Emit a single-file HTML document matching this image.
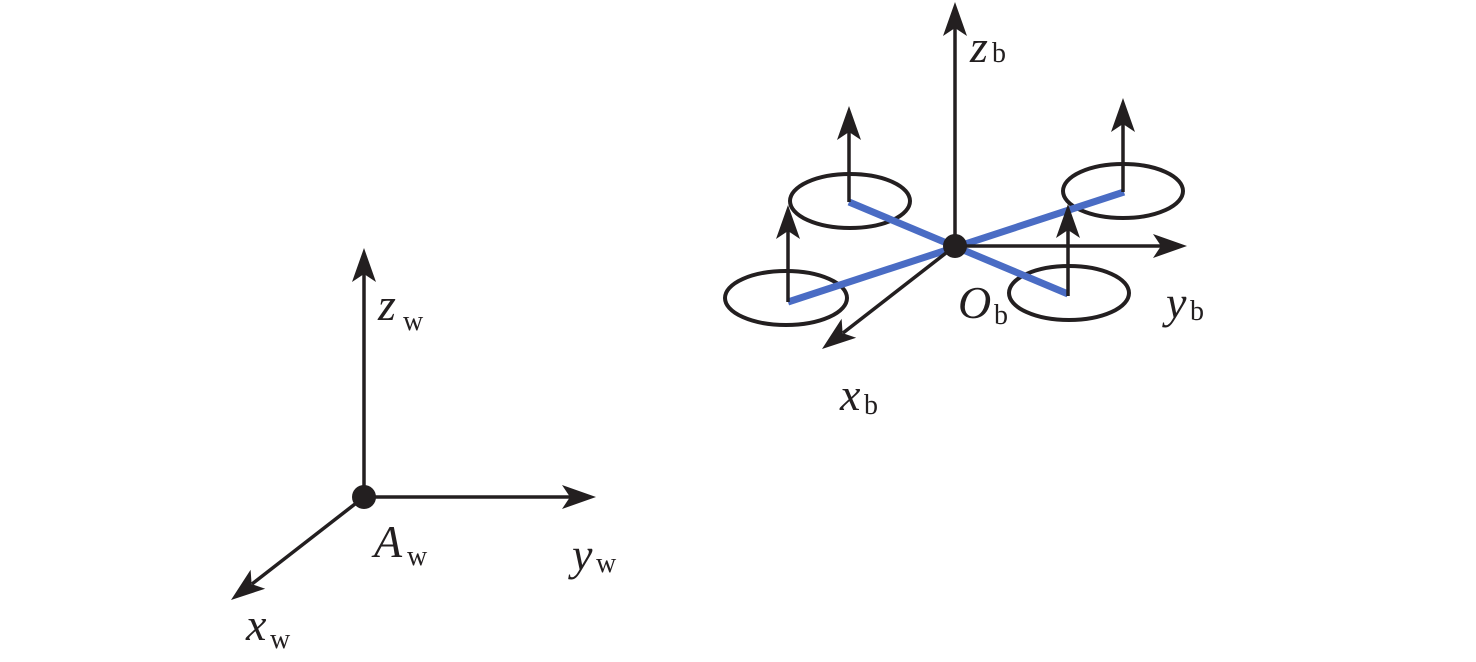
<!DOCTYPE html>
<html><head><meta charset="utf-8"><style>
html,body{margin:0;padding:0;background:#fff;}
svg{display:block}
.t{font-family:"Liberation Serif","DejaVu Serif",serif;fill:#231f20}
</style></head><body>
<svg width="1476" height="662" viewBox="0 0 1476 662" xmlns="http://www.w3.org/2000/svg">
<g stroke="#231f20" stroke-width="3.5" fill="none">
<line x1="364" y1="497" x2="364" y2="274"/>
<line x1="364" y1="497" x2="570" y2="497"/>
<line x1="364" y1="497" x2="252" y2="584"/>
</g>
<g fill="#231f20">
<polygon points="364,248 376,282 364,274 352,282"/>
<polygon points="596,497 562,485 570,497 562,509"/>
<polygon points="231,600 265.2,588.7 251.6,584.1 250.6,569.7"/>
</g>
<circle cx="364" cy="497" r="12" fill="#231f20"/>
<g stroke="#231f20" stroke-width="4" fill="none">
<ellipse cx="850" cy="201" rx="60" ry="27"/>
<ellipse cx="1123" cy="191" rx="60" ry="27"/>
<ellipse cx="786" cy="298" rx="61" ry="27"/>
<ellipse cx="1069" cy="293" rx="60" ry="27"/>
</g>
<g stroke="#4a6cc4" stroke-width="7" fill="none">
<line x1="849" y1="202" x2="1068" y2="294"/>
<line x1="788" y1="302" x2="1124" y2="192"/>
</g>
<g stroke="#231f20" stroke-width="3.5" fill="none">
<line x1="955" y1="246" x2="955" y2="28"/>
<line x1="955" y1="246" x2="1161" y2="246"/>
<line x1="955" y1="246" x2="843" y2="333"/>
<line x1="849" y1="202" x2="849" y2="132"/>
<line x1="788" y1="302" x2="788" y2="231"/>
<line x1="1123" y1="192" x2="1123" y2="124"/>
<line x1="1068" y1="296" x2="1068" y2="230"/>
</g>
<g fill="#231f20">
<polygon points="955,2 967,36 955,28 943,36"/>
<polygon points="1187,246 1153,234 1161,246 1153,258"/>
<polygon points="822,349 856.2,337.7 842.6,333.1 841.6,318.7"/>
<polygon points="849,106 861,140 849,132 837,140"/>
<polygon points="788,205 800,239 788,231 776,239"/>
<polygon points="1123,98 1135,132 1123,124 1111,132"/>
<polygon points="1068,204 1080,238 1068,230 1056,238"/>
</g>
<circle cx="955" cy="246" r="12" fill="#231f20"/>
<g class="t" font-size="46" font-style="italic">
<text class="t" x="378" y="320">z</text>
<text class="t" x="374" y="557">A</text>
<text class="t" x="572" y="570">y</text>
<text class="t" x="246" y="640">x</text>
<text class="t" x="970" y="62">z</text>
<text class="t" x="958" y="318">O</text>
<text class="t" x="1166" y="318">y</text>
<text class="t" x="840" y="410">x</text>
</g>
<g class="t" font-size="28">
<text class="t" x="403" y="330">w</text>
<text class="t" x="407" y="565">w</text>
<text class="t" x="596" y="572">w</text>
<text class="t" x="270" y="648">w</text>
<text class="t" x="992" y="62">b</text>
<text class="t" x="994" y="324">b</text>
<text class="t" x="1190" y="320">b</text>
<text class="t" x="864" y="414">b</text>
</g>
</svg>
</body></html>
